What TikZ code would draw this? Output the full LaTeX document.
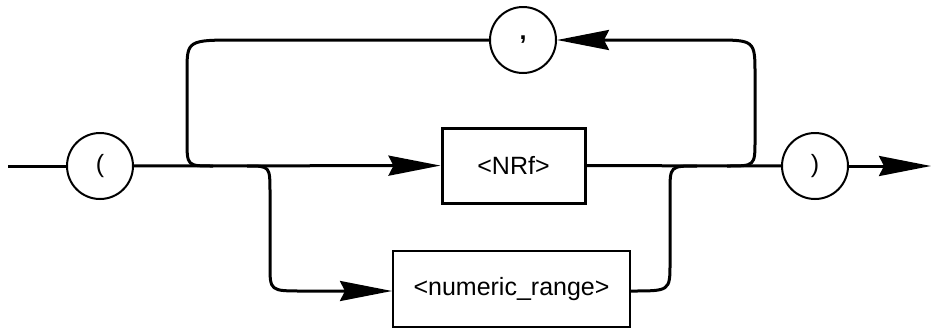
\documentclass[tikz,border=0pt]{standalone}
\usepackage{fontspec}
\setmainfont{Liberation Sans}
\usepackage{tikz}
\usetikzlibrary{
  arrows.meta,
  positioning
}

\begin{document}
\begin{tikzpicture}[
  x=1pt, y=-1pt,
  line/.style={line width=3pt},
  arr/.style={-{Stealth[length=52pt, width=20pt, inset=5pt]}},
  term/.style={draw, circle, line width=2pt, minimum size=66pt, inner sep=0pt, font=\fontsize{25}{30}\selectfont},
  nterm/.style={draw, rectangle, inner sep=0pt, font=\fontsize{25}{30}\selectfont},
]
  \useasboundingbox (0,0) rectangle (931,327);

  \node[term] (lp) at (100,166) {(};
  \node[term] (comma) at (523,40) {\textbf{,}};
  \node[term] (rp) at (815,166) {)};
  \node[nterm, line width=3pt, minimum width=143pt, minimum height=75pt] (nrf) at (513.5,165.5) {<NRf>};
  \node[nterm, line width=2pt, minimum width=237pt, minimum height=76pt] (nr) at (511.5,289) {<numeric\_range>};

  % Junctions on the main line
  \coordinate (start) at (8,166);
  \coordinate (jA) at (213,166);
  \coordinate (jB) at (247,166);
  \coordinate (jC) at (697,166);
  \coordinate (jD) at (727,166);
  \coordinate (stop) at (931,166);

  % Main line
  \draw[line] (start) -- (lp);
  \draw[line, arr] (lp) -- (nrf);
  \draw[line] (nrf) -- (rp);
  \draw[line, arr] (rp) -- (stop);

  % Loop back through the comma
  \draw[line, arr] (jD) .. controls (755,166) .. (755,140) -- (755,75)
    .. controls (755,40) .. (713,40) -- (comma);
  \draw[line] (comma) -- (240,40) .. controls (187,40) .. (187,72)
    -- (187,140) .. controls (187,166) .. (jA);

  % Lower branch
  \draw[line, arr] (jB) .. controls (270,166) .. (270,193) -- (270,265)
    .. controls (270,291) .. (303,291) -- (nr.west |- 0,291);
  \draw[line] (nr.east |- 0,291) .. controls (670,291) .. (670,263) -- (670,192)
    .. controls (670,166) .. (jC);
\end{tikzpicture}
\end{document}
